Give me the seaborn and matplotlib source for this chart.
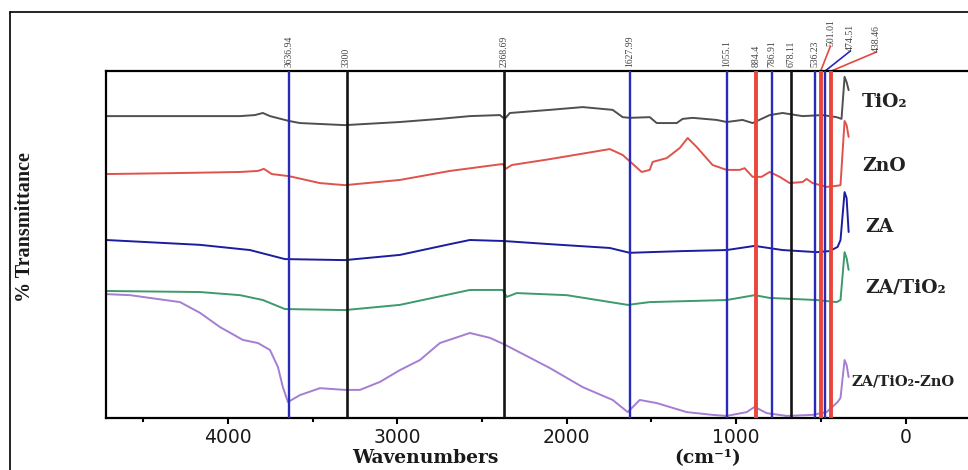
import matplotlib
matplotlib.use("Agg")
import matplotlib.pyplot as plt
import seaborn as sns
import pandas as pd
from matplotlib.lines import Line2D
from matplotlib.transforms import blended_transform_factory

# ---------------- data ----------------
samples = ["TiO2", "ZnO", "ZA", "ZA/TiO2", "ZA/TiO2-ZnO"]
sample_labels = ["TiO\u2082", "ZnO", "ZA", "ZA/TiO\u2082", "ZA/TiO\u2082-ZnO"]

tio2_wn = [4720, 4283, 3929, 3841, 3794, 3752, 3640, 3575, 3310, 2985, 2749, 2572,
           2395, 2366, 2336, 2100, 1906, 1729, 1670, 1628, 1510, 1469, 1351, 1316,
           1257, 1115, 1056, 962, 903, 802, 726, 608, 490, 407, 378, 360, 348, 336]
tio2_t = [87.0, 87.0, 87.0, 87.3, 87.9, 87.0, 85.6, 85.0, 84.4, 85.3, 86.2, 87.0,
          87.3, 86.2, 87.9, 88.8, 89.6, 88.8, 86.7, 86.5, 86.7, 85.0, 85.0, 86.2,
          86.5, 85.9, 85.3, 85.9, 85.0, 87.3, 87.9, 87.0, 87.3, 86.7, 86.2, 98.3, 96.8, 94.5]

zno_wn = [4720, 4283, 3929, 3823, 3788, 3741, 3640, 3457, 3310, 2985, 2690, 2378,
          2360, 2325, 2100, 1746, 1670, 1617, 1558, 1510, 1493, 1410, 1333, 1286,
          1233, 1139, 1056, 979, 950, 903, 850, 802, 743, 684, 608, 584, 549, 466,
          407, 384, 360, 348, 336]
zno_t = [70.3, 70.6, 70.9, 71.2, 71.8, 70.3, 69.7, 67.7, 67.1, 68.6, 71.2, 73.2,
         71.8, 72.9, 74.6, 77.5, 75.8, 73.5, 70.9, 71.5, 73.8, 74.9, 77.8, 80.7,
         78.1, 72.9, 71.5, 71.5, 72.0, 69.5, 69.5, 70.9, 69.5, 67.7, 68.0, 68.9, 67.7, 66.6,
         66.9, 67.1, 85.6, 84.4, 81.0]

za_wn = [4720, 4165, 3870, 3664, 3310, 2985, 2690, 2572, 2372, 2100, 1746, 1628,
         1510, 1316, 1056, 891, 726, 525, 448, 401, 384, 360, 348, 336]
za_t = [51.3, 49.9, 48.4, 45.8, 45.5, 47.0, 50.1, 51.3, 51.0, 50.1, 49.0, 47.6,
        47.8, 48.1, 48.4, 49.6, 48.4, 47.8, 48.1, 49.3, 51.3, 65.1, 63.4, 53.6]

zatio2_wn = [4720, 4165, 3929, 3794, 3664, 3310, 2985, 2572, 2378, 2354, 2295, 2000,
             1640, 1510, 1056, 891, 802, 525, 407, 384, 360, 348, 336]
zatio2_t = [36.6, 36.3, 35.4, 34.0, 31.4, 31.1, 32.6, 36.9, 36.9, 34.9, 36.0, 35.4,
            32.6, 33.4, 34.0, 35.4, 34.6, 34.0, 33.4, 34.0, 47.8, 46.1, 42.7]

mix_wn = [4720, 4578, 4460, 4283, 4165, 4047, 3912, 3823, 3752, 3705, 3676, 3646,
          3575, 3457, 3310, 3221, 3103, 2985, 2867, 2749, 2572, 2454, 2372, 2100,
          1906, 1729, 1640, 1569, 1469, 1292, 1139, 1056, 938, 891, 820, 702, 549,
          466, 401, 384, 360, 348, 336]
mix_t = [35.7, 35.4, 34.6, 33.4, 30.3, 26.2, 22.5, 21.6, 19.6, 14.7, 8.9, 4.6,
         6.6, 8.6, 8.1, 8.1, 10.4, 13.8, 16.7, 21.6, 24.5, 23.1, 21.3, 14.4,
         8.9, 5.2, 1.7, 5.2, 4.3, 1.7, 0.9, 0.6, 1.7, 3.2, 1.4, 0.6, 0.9,
         1.7, 4.6, 5.8, 16.7, 15.3, 11.8]

peak_values = [3636.94, 3300, 2368.69, 1627.99, 1055.1, 884.4, 786.91, 678.11,
               536.23, 501.01, 474.51, 438.46]
peak_texts = ["3636.94", "3300", "2368.69", "1627.99", "1055.1", "884.4", "786.91",
              "678.11", "536.23", "501.01", "474.51", "438.46"]
peak_kinds = ["blue", "black", "black", "blue", "blue", "red", "blue", "black",
              "blue", "red", "blue", "red"]

x_ticks = [4000, 3000, 2000, 1000, 0]
x_tick_labels = ["4000", "3000", "2000", "1000", "0"]
x_minor_ticks = [4500, 3500, 2500, 1500, 500]

# ---------------- styling ----------------
series_colors = {"TiO2": "#4f4f4f", "ZnO": "#e0524c", "ZA": "#1c1ca0",
                 "ZA/TiO2": "#3d9a6c", "ZA/TiO2-ZnO": "#a57dd4"}
kind_style = {"blue": ("#2a2ab8", 1.7), "black": ("#141414", 1.9), "red": ("#e8463c", 2.8)}

sns.set_theme(style="white")
plt.rcParams["font.family"] = ["DejaVu Sans"]

frames = []
for name, wn, tr in [("TiO2", tio2_wn, tio2_t), ("ZnO", zno_wn, zno_t),
                     ("ZA", za_wn, za_t), ("ZA/TiO2", zatio2_wn, zatio2_t),
                     ("ZA/TiO2-ZnO", mix_wn, mix_t)]:
    frames.append(pd.DataFrame({"sample": name, "wavenumber": wn, "transmittance": tr}))
df = pd.concat(frames, ignore_index=True)

W, H = 968, 470
fig = plt.figure(figsize=(W / 100, H / 100), dpi=100)
fig.patch.set_facecolor("white")
ax = fig.add_axes([106 / W, 52 / H, 869 / W, 347 / H])

sns.lineplot(data=df, x="wavenumber", y="transmittance", hue="sample",
             hue_order=samples, palette=series_colors, estimator=None, sort=False,
             legend=False, linewidth=1.4, ax=ax, zorder=2)

ax.set_xlim(4720, -410)
ax.set_ylim(0, 100)
ax.set_xlabel("")
ax.set_ylabel("")
ax.set_yticks([])
ax.set_xticks(x_ticks)
ax.set_xticklabels(x_tick_labels)
ax.set_xticks(x_minor_ticks, minor=True)
ax.tick_params(axis="x", which="major", bottom=True, direction="out", length=4,
               width=1.5, color="black", pad=3, labelsize=13.5, labelcolor="#1a1a1a")
ax.tick_params(axis="x", which="minor", bottom=True, direction="out", length=3,
               width=1.5, color="black")
for side in ["left", "top", "bottom", "right"]:
    ax.spines[side].set_visible(True)
    ax.spines[side].set_color("black")
    ax.spines[side].set_linewidth(1.6)

# vertical peak lines
for val, kind in zip(peak_values, peak_kinds):
    c, lw = kind_style[kind]
    ax.axvline(val, color=c, lw=lw, zorder=3)

trans = blended_transform_factory(ax.transData, ax.transAxes)
leader_targets = {"501.01": (443, 1.072), "474.51": (325, 1.058), "438.46": (171, 1.055)}
for val, txt, kind in zip(peak_values, peak_texts, peak_kinds):
    if txt in leader_targets:
        tx, ty = leader_targets[txt]
        c, _ = kind_style[kind]
        ax.plot([val, tx], [1.0, ty], color=c, lw=1.2, transform=trans, clip_on=False)
        ax.text(tx, ty, txt, transform=trans, rotation=90, ha="center", va="bottom",
                fontsize=7, family="Liberation Serif", color="#444444")
    else:
        ax.text(val, 1.012, txt, transform=trans, rotation=90, ha="center", va="bottom",
                fontsize=7, family="Liberation Serif", color="#444444")

# sample labels on the right
label_pos = [(124, 91.1, "center", 13.5), (124, 72.6, "center", 13.5),
             (153, 55.0, "center", 13.5), (0, 37.5, "center", 13.5),
             (319, 10.4, "left", 10.5)]
for lab, (lx, ly, ha, fs) in zip(sample_labels, label_pos):
    ax.text(lx, ly, lab, ha=ha, va="center", fontsize=fs, family="DejaVu Serif",
            fontweight="bold", color="#222222", clip_on=False)

# axis titles
fig.text(25 / W, 1 - 227 / H, "% Transmittance", rotation=90, ha="center", va="center",
         fontsize=14.5, family="Liberation Serif", fontweight="bold", color="#1a1a1a")
fig.text(425 / W, 1 - 449 / H, "Wavenumbers", ha="center", va="top",
         fontsize=13.5, family="DejaVu Serif", fontweight="bold", color="#1a1a1a")
fig.text(708 / W, 1 - 449 / H, "(cm\u207b\u00b9)", ha="center", va="top",
         fontsize=13.5, family="DejaVu Serif", fontweight="bold", color="#1a1a1a")

# outer frame (partially visible in the reference)
fig.add_artist(Line2D([10 / W, 10 / W], [1 - 12 / H, 0], transform=fig.transFigure,
                      color="black", lw=1.2))
fig.add_artist(Line2D([10 / W, 1], [1 - 12 / H, 1 - 12 / H], transform=fig.transFigure,
                      color="black", lw=1.2))

fig.savefig("out.png", dpi=100, facecolor="white")
